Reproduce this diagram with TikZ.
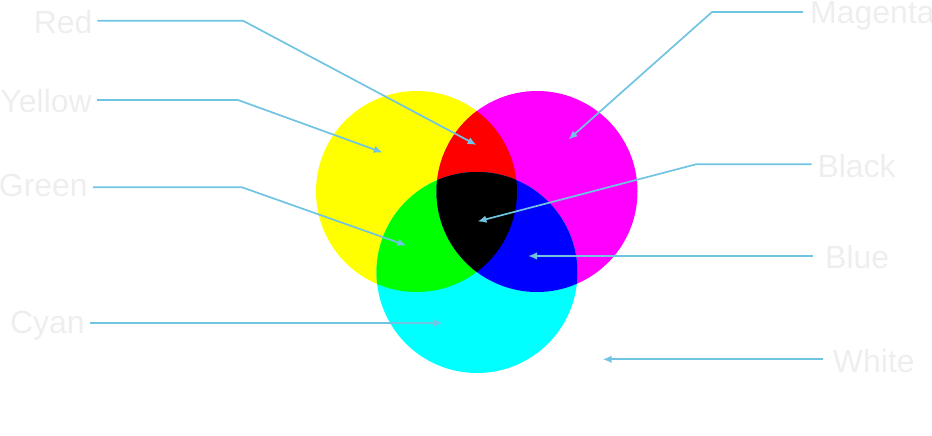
\documentclass[tikz,border=0pt]{standalone}
\usepackage{fontspec}
\setmainfont{Liberation Sans}
\usetikzlibrary{arrows.meta}
\definecolor{lblgray}{RGB}{238,238,238}
\definecolor{connblue}{RGB}{112,196,226}
\definecolor{colY}{RGB}{255,255,0}
\definecolor{colM}{RGB}{255,0,255}
\definecolor{colC}{RGB}{0,255,255}
\definecolor{colR}{RGB}{255,0,0}
\definecolor{colG}{RGB}{0,255,0}
\definecolor{colB}{RGB}{0,0,255}
\definecolor{colK}{RGB}{0,0,0}
\begin{document}
\begin{tikzpicture}[x=1pt,y=-1pt,
  lab/.style={font=\fontsize{32}{36}\selectfont, text=lblgray, inner sep=0pt, text height=26pt, text depth=0pt},
  connline/.style={draw=connblue, line width=1.7pt, -{Latex[length=9pt,width=7.5pt]}}]
\useasboundingbox (0,0) rectangle (932,436);
\def\R{100.5pt}
\coordinate (cY) at (416.5,191.5);
\coordinate (cM) at (537,191.5);
\coordinate (cC) at (477,272.5);
% base circles
\fill[colY] (cY) circle[radius=\R];
\fill[colM] (cM) circle[radius=\R];
\fill[colC] (cC) circle[radius=\R];
% pairwise overlaps
\begin{scope}
  \clip (cY) circle[radius=\R];
  \fill[colR] (cM) circle[radius=\R];
\end{scope}
\begin{scope}
  \clip (cY) circle[radius=\R];
  \fill[colG] (cC) circle[radius=\R];
\end{scope}
\begin{scope}
  \clip (cM) circle[radius=\R];
  \fill[colB] (cC) circle[radius=\R];
\end{scope}
\begin{scope}
  \clip (cY) circle[radius=\R];
  \clip (cM) circle[radius=\R];
  \fill[colK] (cC) circle[radius=\R];
\end{scope}
% labels
\node[lab, anchor=east] (red) at (92.7,20.7) {Red};
\node[lab, anchor=east, text height=24pt] (yellow) at (92,100) {Yellow};
\node[lab, anchor=east, text height=19pt] (green) at (88,187.3) {Green};
\node[lab, anchor=east, text height=21pt] (cyan) at (85,323) {Cyan};
\node[lab, anchor=west, text height=24pt] (magenta) at (810,12) {Magenta};
\node[lab, anchor=west] (black) at (817.3,164.3) {Black};
\node[lab, anchor=west, text height=24pt] (blue) at (825,256) {Blue};
\node[lab, anchor=west] (white) at (832.7,359.3) {White};
% tips and kinks
\coordinate (redK) at (243,20.7);
\coordinate (redT) at (476.5,145);
\coordinate (yellowK) at (238,100);
\coordinate (yellowT) at (382.7,152.5);
\coordinate (greenK) at (242,187.3);
\coordinate (greenT) at (406.5,245.5);
\coordinate (cyanT) at (443,323);
\coordinate (magentaK) at (712,12);
\coordinate (magentaT) at (568.5,139.5);
\coordinate (blackK) at (696,164.3);
\coordinate (blackT) at (477.5,221.5);
\coordinate (blueT) at (528,256);
\coordinate (whiteT) at (602.7,359.3);
% connectors
\draw[connline] ([xshift=4.6pt]red.east) -- (redK) -- (redT);
\draw[connline] ([xshift=5pt]yellow.east) -- (yellowK) -- (yellowT);
\draw[connline] ([xshift=5pt]green.east) -- (greenK) -- (greenT);
\draw[connline] ([xshift=5pt]cyan.east) -- (cyanT);
\draw[connline] ([xshift=-7pt]magenta.west) -- (magentaK) -- (magentaT);
\draw[connline] ([xshift=-5.6pt]black.west) -- (blackK) -- (blackT);
\draw[connline] ([xshift=-12pt]blue.west) -- (blueT);
\draw[connline] ([xshift=-10pt]white.west) -- (whiteT);
\end{tikzpicture}
\end{document}
